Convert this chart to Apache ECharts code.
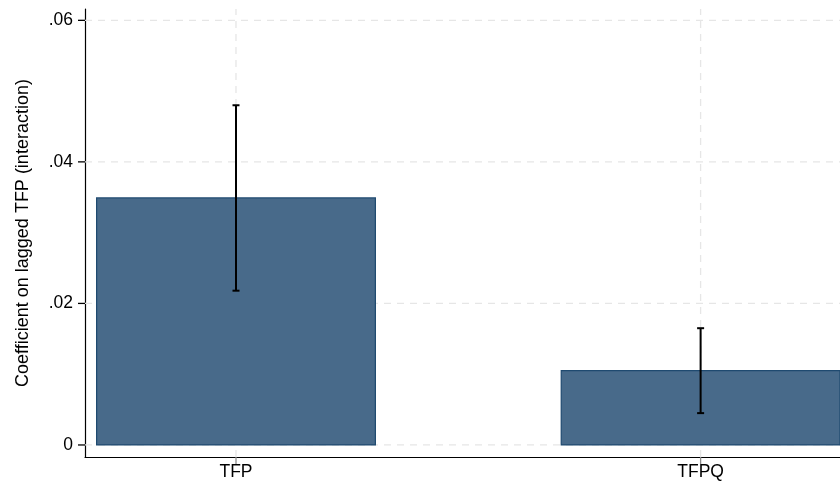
<!DOCTYPE html>
<html>
<head>
<meta charset="utf-8">
<script src="https://cdn.jsdelivr.net/npm/echarts@6/dist/echarts.min.js"></script>
<style>
html,body{margin:0;padding:0;background:#fff;}
#chart{width:840px;height:485px;}
</style>
</head>
<body>
<div id="chart"></div>
<script>
// Coefficient estimates with 95% confidence intervals
const categories = ['TFP', 'TFPQ'];
const positions = [1, 2];
const coefficients = [0.0349, 0.0105];
const ciLower = [0.0218, 0.0045];
const ciUpper = [0.0480, 0.0165];
const yTicks = [0, 0.02, 0.04, 0.06];
const yTickLabels = ['0', '.02', '.04', '.06'];

const X_MIN = 0.675, X_MAX = 2.3;
const Y_MIN = -0.0017, Y_MAX = 0.0616;
const BAR_WIDTH = 0.6;
const TICK_LEN = 7;
const FONT = 'Liberation Sans, Arial, sans-serif';

const chart = echarts.init(document.getElementById('chart'));

const gridStyle = { stroke: '#e6e6e6', lineWidth: 1.3, lineDash: [7, 6] };

chart.setOption({
  animation: false,
  grid: { left: 85, right: 0, top: 9, bottom: 28 },
  xAxis: {
    type: 'value', min: X_MIN, max: X_MAX,
    axisLine: { onZero: false, lineStyle: { color: '#000', width: 1.2 } },
    axisTick: { show: false },
    axisLabel: {
      customValues: positions,
      formatter: v => categories[positions.indexOf(Math.round(v))] || '',
      color: '#000', fontSize: 17.5, fontFamily: FONT, margin: 6
    },
    splitLine: { show: false }
  },
  yAxis: {
    type: 'value', min: Y_MIN, max: Y_MAX,
    name: 'Coefficient on lagged TFP (interaction)',
    nameLocation: 'middle', nameGap: 53,
    nameTextStyle: { color: '#000', fontSize: 18, fontFamily: FONT },
    axisLine: { show: true, onZero: false, lineStyle: { color: '#000', width: 1.2 } },
    axisTick: { show: false },
    axisLabel: {
      customValues: yTicks,
      formatter: v => { const i = yTicks.findIndex(t => Math.abs(t - v) < 1e-9); return i >= 0 ? yTickLabels[i] : ''; },
      color: '#000', fontSize: 17.5, fontFamily: FONT, margin: 12
    },
    splitLine: { show: false }
  },
  series: [
    {
      // dashed reference grid
      type: 'custom', z: 1, silent: true,
      data: [[0]],
      renderItem: function (params, api) {
        const children = [];
        yTicks.forEach(t => {
          const a = api.coord([X_MIN, t]), b = api.coord([X_MAX, t]);
          children.push({ type: 'line', shape: { x1: a[0], y1: a[1], x2: b[0], y2: b[1] }, style: gridStyle });
        });
        positions.forEach(p => {
          const a = api.coord([p, Y_MIN]), b = api.coord([p, Y_MAX]);
          children.push({ type: 'line', shape: { x1: a[0], y1: a[1], x2: b[0], y2: b[1] }, style: gridStyle });
        });
        return { type: 'group', children };
      }
    },
    {
      // coefficient bars
      type: 'custom', z: 2,
      data: positions.map((p, i) => [p, coefficients[i]]),
      renderItem: function (params, api) {
        const x = api.value(0), y = api.value(1);
        const tl = api.coord([x - BAR_WIDTH / 2, y]);
        const br = api.coord([x + BAR_WIDTH / 2, 0]);
        return {
          type: 'rect',
          shape: { x: tl[0], y: tl[1], width: br[0] - tl[0], height: br[1] - tl[1] },
          style: { fill: '#486a8a', stroke: '#1f4a70', lineWidth: 1.2 }
        };
      }
    },
    {
      // confidence interval whiskers
      type: 'custom', z: 3,
      data: positions.map((p, i) => [p, ciLower[i], ciUpper[i]]),
      renderItem: function (params, api) {
        const x = api.value(0);
        const lo = api.coord([x, api.value(1)]);
        const hi = api.coord([x, api.value(2)]);
        const cap = 3.5;
        const s = { stroke: '#000', lineWidth: 2 };
        return {
          type: 'group',
          children: [
            { type: 'line', shape: { x1: lo[0], y1: lo[1], x2: hi[0], y2: hi[1] }, style: s },
            { type: 'line', shape: { x1: lo[0] - cap, y1: lo[1], x2: lo[0] + cap, y2: lo[1] }, style: s },
            { type: 'line', shape: { x1: hi[0] - cap, y1: hi[1], x2: hi[0] + cap, y2: hi[1] }, style: s }
          ]
        };
      }
    }
  ]
});

// Axis tick marks, placed through the chart's own coordinate conversion
const tickGraphics = [];
yTicks.forEach(t => {
  const p = chart.convertToPixel({ gridIndex: 0 }, [X_MIN, t]);
  tickGraphics.push({ type: 'line', shape: { x1: p[0] - TICK_LEN, y1: p[1], x2: p[0], y2: p[1] },
    style: { stroke: '#000', lineWidth: 1.3 }, z: 10 });
});
positions.forEach(v => {
  const p = chart.convertToPixel({ gridIndex: 0 }, [v, Y_MIN]);
  tickGraphics.push({ type: 'line', shape: { x1: p[0], y1: p[1], x2: p[0], y2: p[1] + TICK_LEN },
    style: { stroke: '#8a8a8a', lineWidth: 1.3 }, z: 10 });
});
chart.setOption({ graphic: tickGraphics });
</script>
</body>
</html>
